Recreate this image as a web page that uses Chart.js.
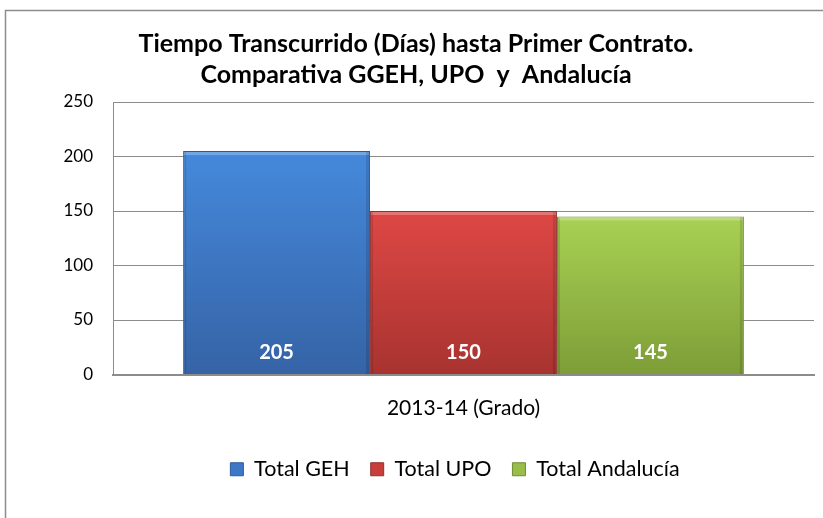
<!DOCTYPE html>
<html>
<head>
<meta charset="utf-8">
<script src="https://cdn.jsdelivr.net/npm/chart.js@4/dist/chart.umd.min.js"></script>
<style>
  html, body { margin: 0; padding: 0; background: #fff; }
  #wrap { width: 823px; height: 518px; position: relative; }
</style>
</head>
<body>
<div id="wrap"><canvas id="tiempoChart"></canvas></div>
<script>
// Datos del gráfico
const categorias = ['2013-14 (Grado)'];
const series = ['Total GEH', 'Total UPO', 'Total Andalucía'];
const valoresGEH = [205];
const valoresUPO = [150];
const valoresAndalucia = [145];
const ticksY = [0, 50, 100, 150, 200, 250];
const titulo = ['Tiempo Transcurrido (Días) hasta Primer Contrato.', 'Comparativa GGEH, UPO  y  Andalucía'];

const FONT = 'Lato, "Open Sans", sans-serif';
const colores = [
  { top: '#4589dc', bottom: '#3563a6', solid: '#3d78c6', edge: '#2f5a96' },
  { top: '#de4845', bottom: '#a83330', solid: '#c83e3b', edge: '#943030' },
  { top: '#a9d154', bottom: '#7d9d37', solid: '#98bd48', edge: '#6f8c31' }
];

function degradado(i) {
  return function (ctx) {
    const chart = ctx.chart;
    const area = chart.chartArea;
    if (!area || ctx.raw === undefined) return colores[i].solid;
    const yTop = chart.scales.y.getPixelForValue(ctx.raw);
    const g = chart.ctx.createLinearGradient(0, yTop, 0, area.bottom);
    g.addColorStop(0, colores[i].top);
    g.addColorStop(1, colores[i].bottom);
    return g;
  };
}

// Marco del gráfico y título
const marcoPlugin = {
  id: 'marco',
  afterLayout(chart) {
    // la leyenda del original está desplazada a la derecha
    chart.legend.left += 48;
    chart.legend.right += 48;
  },
  beforeDraw(chart) {
    const c = chart.ctx;
    c.save();
    c.strokeStyle = '#8c8c8c';
    c.lineWidth = 1.5;
    c.strokeRect(5.5, 10.5, 1000, 1000);
    c.fillStyle = '#000';
    c.font = 'bold 25px ' + FONT;
    c.textAlign = 'center';
    c.textBaseline = 'middle';
    c.fillText(titulo[0], 416, 44);
    c.fillText(titulo[1], 416, 75);
    c.restore();
  }
};

// Etiquetas de valor dentro de las barras (y un pequeño bisel)
const etiquetasPlugin = {
  id: 'etiquetas',
  afterDatasetsDraw(chart) {
    const c = chart.ctx;
    c.save();
    chart.data.datasets.forEach(function (ds, i) {
      const meta = chart.getDatasetMeta(i);
      meta.data.forEach(function (bar) {
        const l = bar.x - bar.width / 2, r = bar.x + bar.width / 2;
        c.fillStyle = 'rgba(255,255,255,0.25)';
        c.fillRect(l + 1, bar.y + 1, r - l - 2, 3);
        c.fillStyle = 'rgba(0,0,0,0.12)';
        c.fillRect(r - 4, bar.y + 1, 3, bar.base - bar.y - 1);
        c.fillRect(l + 1, bar.y + 1, 2, bar.base - bar.y - 1);
      });
    });
    c.fillStyle = '#fff';
    c.font = 'bold 20px ' + FONT;
    c.textAlign = 'center';
    c.textBaseline = 'middle';
    chart.data.datasets.forEach(function (ds, i) {
      const meta = chart.getDatasetMeta(i);
      meta.data.forEach(function (bar, j) {
        c.fillText(String(ds.data[j]), bar.x, bar.base - 21);
      });
    });
    c.restore();
  }
};

const datos = [valoresGEH, valoresUPO, valoresAndalucia];

new Chart(document.getElementById('tiempoChart'), {
  type: 'bar',
  data: {
    labels: categorias,
    datasets: series.map(function (nombre, i) {
      return {
        label: nombre,
        data: datos[i],
        backgroundColor: degradado(i),
        borderColor: colores[i].edge,
        borderWidth: 1,
        categoryPercentage: 0.8,
        barPercentage: 1.0
      };
    })
  },
  options: {
    responsive: true,
    maintainAspectRatio: false,
    animation: false,
    layout: { padding: { top: 102, right: 9, left: 0, bottom: 28 } },
    scales: {
      x: {
        grid: { display: false, drawTicks: false },
        border: { display: true, color: '#8c8c8c', width: 2 },
        ticks: { color: '#000', font: { family: FONT, size: 21 }, padding: 21 },
        afterFit(scale) { scale.height = 63; }
      },
      y: {
        min: 0,
        max: 250,
        afterBuildTicks(scale) { scale.ticks = ticksY.map(v => ({ value: v })); },
        afterFit(scale) { scale.width = 113; },
        grid: { color: '#8c8c8c', drawTicks: false },
        border: { display: true, color: '#8c8c8c' },
        ticks: { color: '#000', font: { family: FONT, size: 17 }, padding: 20 }
      }
    },
    plugins: {
      title: { display: false },
      tooltip: { enabled: false },
      legend: {
        position: 'bottom',
        labels: {
          color: '#000',
          font: { family: FONT, size: 21.5 },
          boxWidth: 13,
          boxHeight: 13,
          padding: 21,
          generateLabels(chart) {
            return chart.data.datasets.map(function (ds, i) {
              return {
                text: ds.label,
                fillStyle: colores[i].solid,
                strokeStyle: colores[i].edge,
                lineWidth: 1,
                datasetIndex: i,
                hidden: false
              };
            });
          }
        }
      }
    }
  },
  plugins: [marcoPlugin, etiquetasPlugin]
});
</script>
</body>
</html>
